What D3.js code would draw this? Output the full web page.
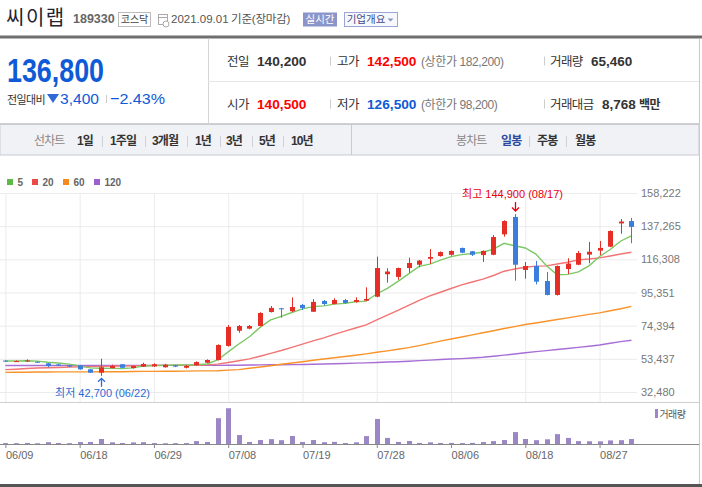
<!DOCTYPE html>
<html>
<head>
<meta charset="utf-8">
<script src="https://cdn.jsdelivr.net/npm/d3@7"></script>
<style>
  body { margin: 0; background: #fff; }
  svg text { font-family: "Liberation Sans", "Noto Sans CJK KR", sans-serif; }
</style>
</head>
<body>
<svg id="chart" width="702" height="487"></svg>
<script>
// ---------- DATA ---------- //
const dates = ["06/09","06/10","06/11","06/14","06/15","06/16","06/17","06/18","06/21","06/22",
  "06/23","06/24","06/25","06/28","06/29","06/30","07/01","07/02","07/05","07/06",
  "07/07","07/08","07/09","07/12","07/13","07/14","07/15","07/16","07/19","07/20",
  "07/21","07/22","07/23","07/26","07/27","07/28","07/29","07/30","08/02","08/03",
  "08/04","08/05","08/06","08/09","08/10","08/11","08/12","08/13","08/17","08/18",
  "08/19","08/20","08/23","08/24","08/25","08/26","08/27","08/30","08/31","09/01"];

const openPrice = [52300,51800,52100,51600,50600,49900,49300,49300,46800,44700,
  47600,50000,47600,48500,48700,48100,49300,47800,49400,51000,
  52700,61600,71200,72500,74200,83000,85400,83500,87500,83200,
  90000,88100,90600,89400,90200,92700,106900,105200,110800,112900,
  116700,118400,119200,123500,121400,119000,119200,132100,143100,109600,
  112100,102600,93800,110200,112900,119300,121800,124300,139000,140500];
const highPrice = [52600,52400,53100,51900,50800,50200,49500,49400,46900,53500,
  49700,50100,49200,51000,50600,50300,49600,49500,51800,53100,
  62600,74800,74800,74800,82900,86800,85600,92300,88100,91100,
  90600,91700,91300,92300,98600,118000,110700,111100,117400,115900,
  122800,121300,122000,123700,121600,122000,131700,141000,144900,114600,
  115300,108300,112400,117000,121600,127300,127900,134600,141800,142500];
const lowPrice = [51700,51600,51500,51000,48100,48900,48200,46600,44500,42700,
  47400,47700,47300,48300,48400,47900,48200,47400,49200,50800,
  52400,61200,69900,72200,73900,82700,79400,83000,84300,83000,
  87300,87800,88300,88900,89900,92300,101600,103400,107900,111300,
  113400,118000,118600,120200,118400,114600,118900,130600,102800,104100,
  100500,93500,93400,107100,112600,113800,118900,124000,132500,126500];
const closePrice = [52000,52000,52400,51200,48900,49500,48500,46800,44700,48100,
  48900,47800,48900,50200,50000,49700,48500,48900,51400,52700,
  62200,73600,74200,74200,82400,85600,85000,86200,85600,89400,
  88100,90600,88700,90600,91300,110800,108600,110800,114000,115500,
  117800,120900,121600,120500,119200,121600,130400,140500,112900,112100,
  102200,93800,112100,113600,120300,121100,123500,134200,140200,136800];
const volume = [12000,11000,14000,10000,24000,13000,11000,25000,27000,66000,
  22000,13000,21000,24000,12000,10000,11000,12000,38000,27000,
  340000,471000,118000,26000,52000,64000,50000,105000,27000,52000,
  24000,28000,13000,22000,104000,330000,80000,27000,40000,14000,
  22000,13000,14000,12000,15000,25000,38000,52000,157000,66000,
  50000,62000,130000,80000,38000,36000,35000,47000,50000,65460];

const ma5 = [52100,52100,52200,52000,51300,50800,50100,49000,47700,47500,
  47400,47300,47700,48800,49200,49300,49500,49500,49700,50200,
  52700,57800,62800,67400,73300,78000,80300,82700,85000,86400,
  86900,88000,88500,89500,89900,94400,98000,102400,107100,111900,
  113300,115800,118000,119300,120000,120800,122700,126400,124900,123500,
  119600,112300,106600,106800,108400,112200,118100,122500,127900,131200];
const ma20 = [46600,46900,47300,47600,47800,48000,48200,48400,48500,48700,
  48800,48900,49000,49100,49200,49300,49300,49300,49400,49600,
  50100,51100,52200,53400,55100,56900,58700,60700,62700,64800,
  66700,68900,70900,72900,74900,78000,81000,84100,87200,90400,
  93200,95500,97900,100200,102000,103800,106100,108800,110200,111300,
  112000,112200,113400,114500,116000,116500,117200,118400,119700,120800];
const ma60 = [44900,45000,45000,45100,45100,45200,45200,45200,45200,45300,
  45300,45300,45400,45500,45500,45600,45600,45700,45800,45800,
  45900,46300,46600,47500,48300,49100,50000,50800,51600,52500,
  53300,54100,54900,55700,56600,57600,58500,59500,60500,61800,
  63200,64600,66000,67200,68600,69900,71200,72600,73800,75100,
  76100,77200,78300,79300,80400,81500,82500,83800,85100,86600];
const ma120 = [49200,49200,49200,49200,49200,49200,49200,49200,49200,49200,
  49200,49300,49300,49300,49300,49300,49300,49300,49300,49300,
  49300,49400,49400,49500,49600,49700,49700,49800,49900,50000,
  50200,50300,50500,50700,50900,51100,51400,51600,51900,52300,
  52600,53000,53300,53600,54000,54400,55100,55800,56500,57300,
  58000,58600,59300,60000,60700,61400,62200,63300,64300,65200];

const priceTicks = [32480, 53437, 74394, 95351, 116308, 137265, 158222];
const dateTicks = ["06/09","06/18","06/29","07/08","07/19","07/28","08/06","08/18","08/27"];

const maNames = ["5", "20", "60", "120"];
const maColors = ["#5cbb46", "#ea4a4a", "#f7891f", "#9b5fd0"];
const maLineColors = ["#7cc865", "#f27474", "#f8932a", "#a76fd6"];

// ---------- SETUP ---------- //
const svg = d3.select("#chart");
const RED = "#e42e26", BLUE = "#3b7ddd";

function label(x, y, s, o = {}) {
  const t = svg.append("text")
    .attr("x", x).attr("y", y).text(s)
    .attr("font-size", o.size || 12)
    .attr("fill", o.color || "#333")
    .attr("font-weight", o.weight || "normal")
    .attr("text-anchor", o.anchor || "start");
  if (o.ls) t.attr("letter-spacing", o.ls);
  if (o.len) t.attr("textLength", o.len).attr("lengthAdjust", "spacingAndGlyphs");
  return t;
}
function hline(x1, x2, y, c, w) {
  svg.append("line").attr("x1", x1).attr("x2", x2).attr("y1", y).attr("y2", y)
    .attr("stroke", c).attr("stroke-width", w || 1);
}
function vline(x, y1, y2, c, w) {
  svg.append("line").attr("x1", x).attr("x2", x).attr("y1", y1).attr("y2", y2)
    .attr("stroke", c).attr("stroke-width", w || 1);
}

// ---------- HEADER ---------- //
label(6, 25, "씨이랩", {size: 20, color: "#23222f", ls: 1.5});
label(73, 23, "189330", {size: 12.5, weight: "bold", color: "#666"});
svg.append("rect").attr("x", 118.5).attr("y", 12.5).attr("width", 32).attr("height", 14)
  .attr("fill", "#fff").attr("stroke", "#bbb");
label(134.5, 23.3, "코스닥", {size: 10, color: "#444", anchor: "middle"});
// calendar icon
svg.append("rect").attr("x", 158.5).attr("y", 14.5).attr("width", 9).attr("height", 10)
  .attr("fill", "#fff").attr("stroke", "#aaa");
hline(159, 167, 17.5, "#aaa");
svg.append("circle").attr("cx", 166).attr("cy", 24).attr("r", 3)
  .attr("fill", "#fff").attr("stroke", "#aaa");
label(171, 23, "2021.09.01", {size: 11.5, color: "#555"});
label(231, 23, "기준(장마감)", {size: 11.5, color: "#555", ls: -0.2});
svg.append("rect").attr("x", 303).attr("y", 12.5).attr("width", 34).attr("height", 14)
  .attr("fill", "#8b95c9");
label(320, 23.3, "실시간", {size: 10.5, color: "#fff", anchor: "middle"});
svg.append("rect").attr("x", 344.5).attr("y", 12.5).attr("width", 53).attr("height", 14)
  .attr("fill", "#f7f8fc").attr("stroke", "#9ba6d6");
label(366, 23.3, "기업개요", {size: 10.5, color: "#3b4a8c", anchor: "middle"});
svg.append("path").attr("d", "M387.5,18.5L393.5,18.5L390.5,21.5Z").attr("fill", "#8a94c4");

hline(0, 702, 37, "#6f6f6f", 3);

// ---------- PRICE PANEL ---------- //
vline(208.5, 38.5, 123, "#d5d5d5");
vline(699.5, 38.5, 487, "#c8c8c8");
hline(208, 699, 81.5, "#e6e6e6");
hline(0, 700, 123.5, "#d0d0d0");

label(7, 82, "136,800", {size: 33, weight: "bold", color: "#0f5ad6", len: 97});
label(7, 103.5, "전일대비", {size: 11, color: "#333", ls: -0.6});
svg.append("path").attr("d", "M47,94L59,94L53,103Z").attr("fill", "#2f6bd3");
label(60, 104, "3,400", {size: 15.5, color: "#0f5ad6", len: 39});
vline(106.5, 95, 103, "#ccc");
label(110, 104, "\u22122.43%", {size: 15.5, color: "#0f5ad6", len: 55});

const infoRows = [
  [["전일", "140,200", "#333"], ["고가", "142,500", "#f00", "(상한가 182,200)"], ["거래량", "65,460", "#333"]],
  [["시가", "140,500", "#f00"], ["저가", "126,500", "#0f5ad6", "(하한가 98,200)"], ["거래대금", "8,768", "#333", "백만"]]
];
const colX = [[227, 257], [337, 367], [550, 591]];
infoRows.forEach((row, r) => {
  const by = r === 0 ? 65.5 : 108.5;
  row.forEach((cell, c) => {
    let vx = colX[c][1];
    if (c === 2 && r === 1) vx = 602;
    label(colX[c][0], by, cell[0], {size: 12.5, color: "#333", ls: -0.6});
    const v = label(vx, by, cell[1], {size: 13.5, weight: "bold", color: cell[2]});
    if (c < 2) v.attr("textLength", 49.5).attr("lengthAdjust", "spacingAndGlyphs");
    if (cell[3] && c === 1) label(421, by, cell[3], {size: 12, color: "#777", ls: -0.4});
    if (cell[3] && c === 2) label(639, by, cell[3], {size: 12, weight: "bold", color: "#333", ls: -0.6});
  });
  vline(330.5, by - 9, by, "#ccc");
  vline(544.5, by - 9, by, "#ccc");
});

// ---------- TABS ---------- //
svg.append("rect").attr("x", 0).attr("y", 124.5).attr("width", 699).attr("height", 30.5)
  .attr("fill", "#f1f2f6").attr("stroke", "#c8cbd4");
vline(351.5, 125, 155, "#c8cbd4");
const tabs = [["선차트", 34, "#888", "normal"], ["1일", 77, "#333", "bold"], ["1주일", 110, "#333", "bold"],
  ["3개월", 152, "#333", "bold"], ["1년", 195, "#333", "bold"], ["3년", 226, "#333", "bold"],
  ["5년", 259, "#333", "bold"], ["10년", 291, "#333", "bold"],
  ["봉차트", 456, "#888", "normal"], ["일봉", 501, "#2d4c9e", "bold"], ["주봉", 537, "#333", "bold"],
  ["월봉", 575, "#333", "bold"]];
tabs.forEach(t => label(t[1], 145, t[0], {size: 12, color: t[2], weight: t[3], ls: -0.9}));
[102, 145, 187, 220, 252, 283, 529, 566].forEach(x => vline(x + 0.5, 136, 147, "#cfd1d8"));

// ---------- CHART ---------- //
const x = d3.scalePoint().domain(dates).range([5.4, 631.4]);
const y = d3.scaleLinear().domain([32480, 158222]).range([392, 193]);
const yVol = d3.scaleLinear().domain([0, 540000]).range([444, 403]);

// horizontal grid
svg.append("g")
  .call(d3.axisLeft(y).tickValues(priceTicks).tickSize(-637).tickFormat(""))
  .call(g => g.select(".domain").remove())
  .call(g => g.selectAll("line").attr("stroke", "#ebebeb"));

// vertical grid
svg.append("g").attr("transform", "translate(0,402)")
  .call(d3.axisBottom(x).tickValues(dateTicks).tickSize(-209).tickFormat(""))
  .call(g => g.select(".domain").remove())
  .call(g => g.selectAll("line").attr("stroke", "#ebebeb"));

hline(0, 699, 402.5, "#cfcfcf");

// price labels
svg.append("g").attr("transform", "translate(641,0)")
  .call(d3.axisRight(y).tickValues(priceTicks).tickSize(0).tickPadding(0).tickFormat(d3.format(",")))
  .call(g => g.select(".domain").remove())
  .call(g => g.selectAll("text").attr("fill", "#777").attr("font-size", 11)
    .attr("font-family", "'Liberation Sans', sans-serif"));

// moving averages
const maSeries = [ma120, ma60, ma20, ma5];
const maColorsDraw = [maLineColors[3], maLineColors[2], maLineColors[1], maLineColors[0]];
const line = d3.line().x((d, i) => x(dates[i])).y(d => y(d));
svg.append("g").selectAll("path").data(maSeries).join("path")
  .attr("d", line)
  .attr("fill", "none")
  .attr("stroke", (d, i) => maColorsDraw[i])
  .attr("stroke-width", 1.4);

// candles
const candles = dates.map((d, i) => ({
  date: d, o: openPrice[i], h: highPrice[i], l: lowPrice[i], c: closePrice[i]
}));
const cg = svg.append("g").selectAll("g").data(candles).join("g");
cg.append("line")
  .attr("x1", d => Math.round(x(d.date)) + 0.5).attr("x2", d => Math.round(x(d.date)) + 0.5)
  .attr("y1", d => y(d.h)).attr("y2", d => y(d.l))
  .attr("stroke", d => d.c >= d.o ? RED : BLUE);
cg.append("rect")
  .attr("x", d => Math.round(x(d.date)) - 2)
  .attr("width", 5)
  .attr("y", d => y(Math.max(d.o, d.c)))
  .attr("height", d => Math.max(1, Math.abs(y(d.o) - y(d.c))))
  .attr("fill", d => d.c >= d.o ? RED : BLUE);

// high / low annotations
const hiIdx = d3.maxIndex(highPrice), loIdx = d3.minIndex(lowPrice);
const hx = Math.round(x(dates[hiIdx])) + 0.5, hy = y(highPrice[hiIdx]);
label(hx - 3, hy - 16, "최고 " + d3.format(",")(highPrice[hiIdx]) + " (" + dates[hiIdx] + ")",
  {size: 11, color: "#e8000b", anchor: "middle"});
svg.append("path")
  .attr("d", `M${hx},${hy - 12}V${hy - 3}M${hx - 3.5},${hy - 6.5}L${hx},${hy - 3}L${hx + 3.5},${hy - 6.5}`)
  .attr("stroke", "#e8000b").attr("fill", "none").attr("stroke-width", 1.3);

const lx = Math.round(x(dates[loIdx])) + 0.5, ly = y(lowPrice[loIdx]);
label(lx + 1, ly + 21.5, "최저 " + d3.format(",")(lowPrice[loIdx]) + " (" + dates[loIdx] + ")",
  {size: 11, color: "#2a6ad3", anchor: "middle"});
svg.append("path")
  .attr("d", `M${lx},${ly + 11}V${ly + 2.5}M${lx - 3.5},${ly + 6}L${lx},${ly + 2.5}L${lx + 3.5},${ly + 6}`)
  .attr("stroke", "#2a6ad3").attr("fill", "none").attr("stroke-width", 1.3);

// legend
const legX = [7, 32, 63, 94];
maNames.forEach((n, i) => {
  svg.append("rect").attr("x", legX[i]).attr("y", 179).attr("width", 6).attr("height", 6)
    .attr("fill", maColors[i]);
  label(legX[i] + 10.5, 186, n, {size: 10, weight: "bold", color: "#666"});
});

// volume
svg.append("g").selectAll("rect").data(volume).join("rect")
  .attr("x", (d, i) => Math.round(x(dates[i])) - 2)
  .attr("width", 5)
  .attr("y", d => yVol(d))
  .attr("height", d => Math.max(1, 444 - yVol(d)))
  .attr("fill", "#9b86c6");
svg.append("rect").attr("x", 655).attr("y", 409).attr("width", 3).attr("height", 9).attr("fill", "#9b86c6");
label(659.5, 417.5, "거래량", {size: 10, color: "#555", ls: -0.6});

// x axis
svg.append("g").attr("transform", "translate(0,444)")
  .call(d3.axisBottom(x).tickValues(dateTicks).tickSize(4).tickPadding(3))
  .call(g => g.select(".domain").remove())
  .call(g => g.selectAll("line").attr("stroke", "#888"))
  .call(g => g.selectAll("text").attr("text-anchor", "start").attr("fill", "#666")
    .attr("font-size", 11).attr("font-family", "'Liberation Sans', sans-serif"));
hline(0, 699, 444.5, "#888");

svg.append("rect").attr("x", 0).attr("y", 484).attr("width", 702).attr("height", 3).attr("fill", "#555");
</script>
</body>
</html>
